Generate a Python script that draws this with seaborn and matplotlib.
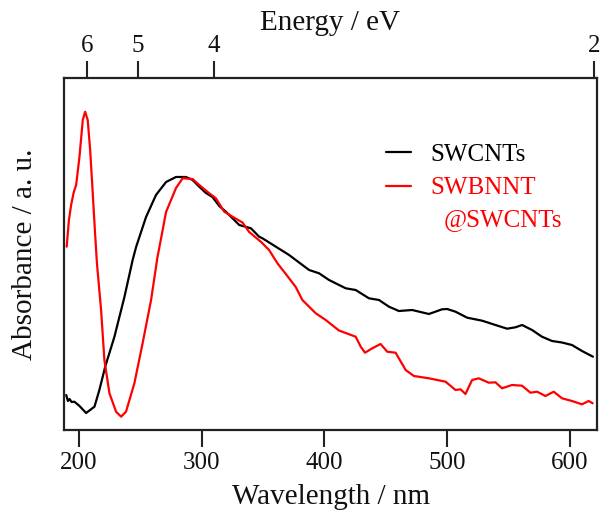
import numpy as np
import pandas as pd
import matplotlib
matplotlib.use("Agg")
import matplotlib.pyplot as plt
import seaborn as sns

# ---- data ----
swcnt_nm = [189.8, 191.2, 192.5, 194.2, 196.5, 200.6, 206.0, 212.8, 216.8, 221.7, 229.0,
            237.2, 243.9, 246.7, 254.8, 262.9, 271.1, 279.2, 287.3, 292.7, 298.1, 303.6,
            308.9, 314.4, 319.8, 328.0, 330.7, 340.2, 346.9, 349.6, 360.5, 371.3, 376.7,
            387.6, 395.7, 403.8, 417.4, 425.5, 436.3, 444.5, 452.6, 460.7, 471.5, 485.1,
            495.9, 500.0, 506.8, 516.3, 528.5, 539.3, 548.8, 555.6, 561.0, 569.1, 577.2,
            585.4, 593.5, 601.6, 609.8, 618.7]
swcnt_abs = [0.35, 0.29, 0.31, 0.28, 0.283, 0.24, 0.17, 0.233, 0.40, 0.64, 0.93,
             1.33, 1.70, 1.83, 2.13, 2.35, 2.48, 2.53, 2.53, 2.50, 2.433, 2.37,
             2.33, 2.24, 2.183, 2.083, 2.05, 2.017, 1.933, 1.917, 1.833, 1.75, 1.70,
             1.60, 1.567, 1.50, 1.417, 1.40, 1.317, 1.30, 1.233, 1.19, 1.20, 1.16,
             1.207, 1.21, 1.183, 1.123, 1.093, 1.05, 1.013, 1.027, 1.05, 1.00, 0.933,
             0.89, 0.875, 0.85, 0.79, 0.733]

bnnt_nm = [190.2, 192.0, 193.8, 196.0, 197.9, 200.6, 203.3, 205.2, 207.3, 209.3, 211.4,
           213.3, 214.8, 218.2, 220.9, 225.0, 230.4, 234.5, 238.5, 245.3, 252.0, 258.9,
           264.0, 271.1, 279.2, 284.6, 292.7, 298.1, 306.3, 311.7, 318.5, 325.2, 333.3,
           338.8, 348.5, 355.0, 361.8, 368.6, 376.7, 382.1, 393.0, 401.1, 411.9, 425.5,
           429.6, 433.1, 439.0, 445.8, 451.2, 458.0, 466.2, 472.9, 485.1, 498.7, 506.8,
           510.9, 514.9, 520.3, 525.7, 533.9, 539.3, 544.7, 552.8, 561.0, 567.8, 573.2,
           580.0, 586.8, 593.5, 601.6, 609.8, 615.2, 618.5]
bnnt_abs = [1.833, 2.10, 2.25, 2.38, 2.45, 2.733, 3.10, 3.183, 3.10, 2.80, 2.367,
            1.967, 1.67, 1.20, 0.70, 0.367, 0.183, 0.133, 0.183, 0.467, 0.867, 1.30,
            1.72, 2.18, 2.42, 2.517, 2.51, 2.45, 2.367, 2.317, 2.183, 2.133, 2.075,
            1.98, 1.88, 1.80, 1.667, 1.56, 1.43, 1.30, 1.167, 1.10, 0.995, 0.933,
            0.833, 0.773, 0.817, 0.86, 0.783, 0.773, 0.60, 0.54, 0.517, 0.483, 0.40,
            0.407, 0.36, 0.50, 0.517, 0.473, 0.477, 0.417, 0.45, 0.443, 0.373, 0.383,
            0.34, 0.383, 0.317, 0.29, 0.257, 0.29, 0.267]

series_names = ["SWCNTs", "SWBNNT@SWCNTs"]
legend_labels = ["SWCNTs", "SWBNNT"]
legend_extra = "@SWCNTs"
series_colors = ["black", "red"]
wl_ticks = [200, 300, 400, 500, 600]
ev_ticks = [6, 5, 4, 2]

df = pd.concat([
    pd.DataFrame({"Wavelength": swcnt_nm, "Absorbance": swcnt_abs, "Sample": series_names[0]}),
    pd.DataFrame({"Wavelength": bnnt_nm, "Absorbance": bnnt_abs, "Sample": series_names[1]}),
], ignore_index=True)

sns.set_theme(style="ticks")
plt.rcParams["font.family"] = ["Liberation Serif", "DejaVu Serif"]

fig = plt.figure(figsize=(6.01, 5.12), dpi=100)
ax = fig.add_axes([64 / 601, 1 - 430 / 512, (597 - 64) / 601, (430 - 78) / 512])

sns.lineplot(data=df, x="Wavelength", y="Absorbance", hue="Sample",
             palette=dict(zip(series_names, series_colors)), estimator=None,
             sort=False, linewidth=1.6, ax=ax)

ax.set_xlim(188, 622)
ax.set_ylim(0, 3.52)
ax.set_xticks(wl_ticks)
ax.set_yticks([])
ax.tick_params(axis="x", direction="out", length=12.5, width=1.5, labelsize=18, pad=3.5,
               color="#222222", labelcolor="#111111")
for s in ax.spines.values():
    s.set_linewidth(1.6)
    s.set_color("#222222")
ax.set_xlabel("Wavelength / nm", fontsize=21, labelpad=7, color="#111111")
ax.set_ylabel("Absorbance / a. u.", fontsize=21, labelpad=19, color="#111111")

sec = ax.secondary_xaxis("top", functions=(lambda x: 1239.84 / np.asarray(x, float),
                                            lambda e: 1239.84 / np.asarray(e, float)))
sec.set_xticks(ev_ticks)
sec.set_xticklabels([str(t) for t in ev_ticks])
sec.tick_params(axis="x", direction="out", length=12.5, width=1.5, labelsize=18, pad=2.5,
                color="#222222", labelcolor="#111111")
sec.set_xlabel("Energy / eV", fontsize=21, labelpad=4, color="#111111")

handles, _ = ax.get_legend_handles_labels()
leg = ax.legend(handles, legend_labels, loc="upper left", bbox_to_anchor=(0.605, 0.815),
                frameon=False, fontsize=18, handlelength=1.0, handletextpad=0.75,
                labelspacing=0.45, borderaxespad=0, borderpad=0)
for text, c in zip(leg.get_texts(), series_colors):
    text.set_color(c)
for line in leg.get_lines():
    line.set_linewidth(1.6)
ax.text(0.713, 0.597, legend_extra, transform=ax.transAxes, color=series_colors[1],
        fontsize=18, ha="left", va="center")

fig.savefig("out.png", dpi=100)
